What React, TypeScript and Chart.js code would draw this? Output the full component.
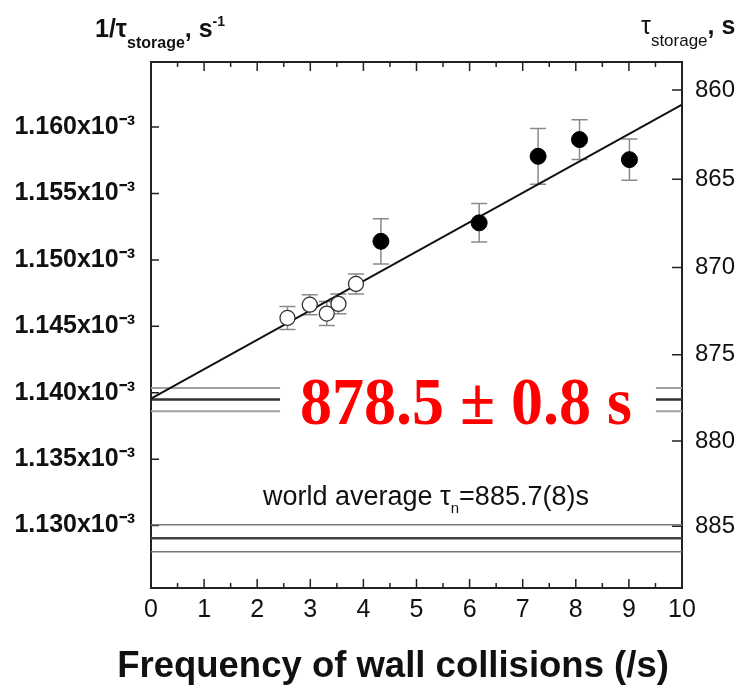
import React, { useEffect, useRef } from 'react';
import { Chart, registerables } from 'chart.js';
Chart.register(...registerables);

// ---- data (rates in units of 1e-3 s^-1) ----
const xMin = 0;
const xMax = 10;
const yMin = 1.1253;
const yMax = 1.1649;
const leftTicks = [1.13, 1.135, 1.14, 1.145, 1.15, 1.155, 1.16];
const rightTicks = [860, 865, 870, 875, 880, 885];
const xMajorTicks = [0, 1, 2, 3, 4, 5, 6, 7, 8, 9, 10];
const xMinorTicks = [0.5, 1.5, 2.5, 3.5, 4.5, 5.5, 6.5, 7.5, 8.5, 9.5];

const openX = [2.57, 2.99, 3.31, 3.53, 3.86];
const openY = [1.14563, 1.14663, 1.14596, 1.14669, 1.14819];
const openErr = [0.00087, 0.00075, 0.0009, 0.00075, 0.00075];

const solidX = [4.33, 6.18, 7.29, 8.07, 9.01];
const solidY = [1.1514, 1.15279, 1.1578, 1.15906, 1.15755];
const solidErr = [0.0017, 0.00145, 0.0021, 0.0015, 0.00155];

const fitX = [0, 10];
const fitY = [1.13956, 1.16169];

const resultBand = [1.14036, 1.13949, 1.1386]; // upper, central, lower
const resultGap = [2.43, 9.51];
const worldTau = [884.9, 885.7, 886.5];

const resultText = '878.5 \u00b1 0.8 s';
const xTitle = 'Frequency of wall collisions (/s)';

const SANS = '"Liberation Sans", Arial, sans-serif';
const SERIF = '"Liberation Serif", "Times New Roman", serif';

type Seg = { t: string; font: string; dy: number };
function drawSegs(ctx: CanvasRenderingContext2D, segs: Seg[], x: number, y: number) {
  let cx = x;
  for (const s of segs) {
    ctx.font = s.font;
    ctx.fillText(s.t, cx, y + s.dy);
    cx += ctx.measureText(s.t).width;
  }
}

const decorPlugin = {
  id: 'decor',
  beforeDatasetsDraw(chart: any) {
    const { ctx, chartArea: a, scales } = chart;
    const xs = scales.x, ys = scales.y, y2 = scales.y2;
    ctx.save();
    // inward tick marks
    ctx.strokeStyle = '#222';
    ctx.lineWidth = 1.5;
    ctx.beginPath();
    for (const v of xMajorTicks) {
      if (v === xMin || v === xMax) continue;
      const p = xs.getPixelForValue(v);
      ctx.moveTo(p, a.bottom); ctx.lineTo(p, a.bottom - 9);
      ctx.moveTo(p, a.top); ctx.lineTo(p, a.top + 9);
    }
    for (const v of xMinorTicks) {
      const p = xs.getPixelForValue(v);
      ctx.moveTo(p, a.bottom); ctx.lineTo(p, a.bottom - 5);
      ctx.moveTo(p, a.top); ctx.lineTo(p, a.top + 5);
    }
    for (const v of leftTicks) {
      const p = ys.getPixelForValue(v);
      ctx.moveTo(a.left, p); ctx.lineTo(a.left + 8, p);
    }
    for (const t of rightTicks) {
      const p = y2.getPixelForValue(1000 / t);
      ctx.moveTo(a.right, p); ctx.lineTo(a.right - 10, p);
    }
    ctx.stroke();
    // error bars
    ctx.strokeStyle = '#8a8a8a';
    ctx.lineWidth = 1.5;
    const bars = (X: number[], Y: number[], E: number[]) => {
      for (let i = 0; i < X.length; i++) {
        const px = xs.getPixelForValue(X[i]);
        const top = ys.getPixelForValue(Y[i] + E[i]);
        const bot = ys.getPixelForValue(Y[i] - E[i]);
        ctx.beginPath();
        ctx.moveTo(px, top); ctx.lineTo(px, bot);
        ctx.moveTo(px - 8, top); ctx.lineTo(px + 8, top);
        ctx.moveTo(px - 8, bot); ctx.lineTo(px + 8, bot);
        ctx.stroke();
      }
    };
    bars(openX, openY, openErr);
    bars(solidX, solidY, solidErr);
    ctx.restore();
  },
  afterDraw(chart: any) {
    const { ctx } = chart;
    ctx.save();
    ctx.fillStyle = '#ff0000';
    ctx.textAlign = 'center';
    ctx.textBaseline = 'alphabetic';
    ctx.font = 'bold 68px ' + SERIF;
    ctx.fillText(resultText, 466, 424, 332);

    ctx.fillStyle = '#111';
    ctx.textAlign = 'left';
    // world average label
    drawSegs(ctx, [
      { t: 'world average ', font: '27px ' + SANS, dy: 0 },
      { t: '\u03c4', font: '27px ' + SANS, dy: 0 },
      { t: 'n', font: '15px ' + SANS, dy: 8 },
      { t: '=885.7(8)s', font: '27px ' + SANS, dy: 0 },
    ], 263, 505);
    // left axis title
    drawSegs(ctx, [
      { t: '1/\u03c4', font: 'bold 25px ' + SANS, dy: 0 },
      { t: 'storage', font: 'bold 16px ' + SANS, dy: 11 },
      { t: ', s', font: 'bold 25px ' + SANS, dy: 0 },
      { t: '-1', font: 'bold 14px ' + SANS, dy: -11 },
    ], 95, 37);
    // right axis title
    drawSegs(ctx, [
      { t: '\u03c4', font: '25px ' + SANS, dy: 0 },
      { t: 'storage', font: '17px ' + SANS, dy: 12 },
      { t: ', ', font: 'bold 25px ' + SANS, dy: 0 },
      { t: 's', font: 'bold 25px ' + SANS, dy: 0 },
    ], 641, 34);
    // x axis title
    ctx.textAlign = 'center';
    ctx.font = 'bold 36.5px ' + SANS;
    ctx.fillText(xTitle, 393, 677);
    ctx.restore();
  },
};

export default function App() {
  const ref = useRef<HTMLCanvasElement | null>(null);
  useEffect(() => {
    if (!ref.current) return;
    const pts = (X: number[], Y: number[]) => X.map((x, i) => ({ x, y: Y[i] }));
    const hLine = (v: number) => [{ x: xMin, y: v }, { x: xMax, y: v }];
    const gapLine = (v: number) => [
      { x: xMin, y: v }, { x: resultGap[0], y: v },
      { x: (resultGap[0] + resultGap[1]) / 2, y: null },
      { x: resultGap[1], y: v }, { x: xMax, y: v },
    ];
    const worldRates = worldTau.map((t) => 1000 / t);
    const lineDs = (data: any[], color: string, width: number) => ({
      type: 'line', data, borderColor: color, borderWidth: width,
      pointRadius: 0, showLine: true, spanGaps: false, fill: false, order: 5,
    });
    const chart = new Chart(ref.current, {
      type: 'scatter',
      data: {
        datasets: [
          {
            data: pts(solidX, solidY), pointRadius: 8, pointHoverRadius: 8,
            backgroundColor: '#000', borderColor: '#000', borderWidth: 1, order: 1,
          } as any,
          {
            data: pts(openX, openY), pointRadius: 7.5, pointHoverRadius: 7.5,
            backgroundColor: '#fff', borderColor: '#333', borderWidth: 1.3, order: 1,
          } as any,
          lineDs(pts(fitX, fitY), '#111', 2),
          lineDs(gapLine(resultBand[0]), '#a0a0a0', 2),
          lineDs(gapLine(resultBand[1]), '#333', 2.5),
          lineDs(gapLine(resultBand[2]), '#a0a0a0', 2),
          lineDs(hLine(worldRates[0]), '#777', 1.5),
          lineDs(hLine(worldRates[1]), '#444', 2.5),
          lineDs(hLine(worldRates[2]), '#777', 1.5),
        ] as any,
      },
      options: {
        responsive: false,
        animation: false,
        layout: { padding: 0 },
        plugins: { legend: { display: false }, tooltip: { enabled: false } },
        scales: {
          x: {
            type: 'linear', position: 'bottom', min: xMin, max: xMax,
            grid: { display: false },
            border: { display: true, color: '#222', width: 2 },
            ticks: { stepSize: 1, color: '#111', padding: -1, font: { family: SANS, size: 25 } },
            afterFit: (s: any) => { s.height = 103; },
          },
          x2: {
            type: 'linear', position: 'top', min: xMin, max: xMax,
            grid: { display: false },
            border: { display: true, color: '#222', width: 2 },
            ticks: { display: false },
            afterFit: (s: any) => { s.height = 62; },
          },
          y: {
            type: 'linear', position: 'left', min: yMin, max: yMax,
            grid: { display: false },
            border: { display: true, color: '#222', width: 2 },
            afterBuildTicks: (s: any) => { s.ticks = leftTicks.map((v) => ({ value: v })); },
            ticks: {
              autoSkip: false, color: '#111', padding: 8,
              font: { family: SANS, size: 25, weight: 'bold' },
              callback: (v: any) => Number(v).toFixed(3) + 'x10\u207b\u00b3',
            },
            afterFit: (s: any) => { s.width = 151; },
          },
          y2: {
            type: 'linear', position: 'right', min: yMin, max: yMax,
            grid: { display: false },
            border: { display: true, color: '#222', width: 2 },
            afterBuildTicks: (s: any) => { s.ticks = rightTicks.map((t) => ({ value: 1000 / t })); },
            ticks: {
              autoSkip: false, color: '#111', padding: 5,
              font: { family: SANS, size: 24 },
              callback: (v: any) => String(Math.round(1000 / Number(v))),
            },
            afterFit: (s: any) => { s.width = 59; },
          },
        },
      } as any,
      plugins: [decorPlugin],
    });
    return () => chart.destroy();
  }, []);
  return (
    <div style={{ position: 'fixed', left: 0, top: 0, width: 741, height: 691, background: '#fff' }}>
      <canvas ref={ref} width={741} height={691} />
    </div>
  );
}
